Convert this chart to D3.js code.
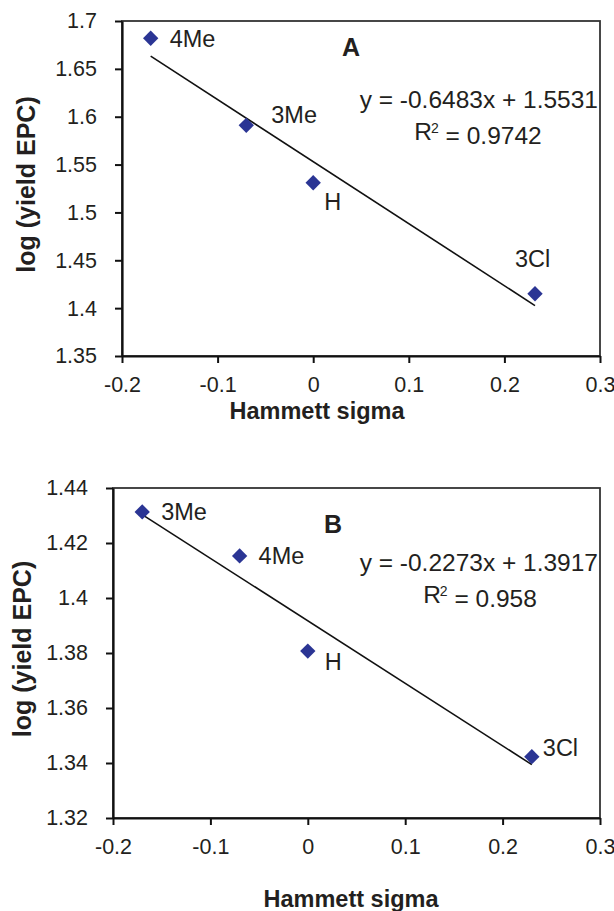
<!DOCTYPE html>
<html>
<head>
<meta charset="utf-8">
<script src="https://cdn.jsdelivr.net/npm/d3@7"></script>
<style>
  body { margin: 0; background: #fff; }
  text { font-family: "Liberation Sans", Arial, sans-serif; fill: #231f20; }
</style>
</head>
<body>
<svg id="chart" width="614" height="911"></svg>
<script>
// Panel A data
const substituentsA = ["4Me", "3Me", "H", "3Cl"];
const sigmaA = [-0.17, -0.07, 0, 0.232];
const logYieldA = [1.682, 1.591, 1.531, 1.415];
const fitA = [-0.6483, 1.5531];   // slope, intercept
const r2A = "0.9742";
const yTicksA = [1.35, 1.4, 1.45, 1.5, 1.55, 1.6, 1.65, 1.7];
const yTickLabelsA = ["1.35", "1.4", "1.45", "1.5", "1.55", "1.6", "1.65", "1.7"];

// Panel B data
const substituentsB = ["3Me", "4Me", "H", "3Cl"];
const sigmaB = [-0.17, -0.07, 0, 0.23];
const logYieldB = [1.4313, 1.4153, 1.3807, 1.3423];
const fitB = [-0.2273, 1.3917];
const r2B = "0.958";
const yTicksB = [1.32, 1.34, 1.36, 1.38, 1.4, 1.42, 1.44];
const yTickLabelsB = ["1.32", "1.34", "1.36", "1.38", "1.4", "1.42", "1.44"];

// shared x axis
const xTicks = [-0.2, -0.1, 0, 0.1, 0.2, 0.3];
const xTickLabels = ["-0.2", "-0.1", "0", "0.1", "0.2", "0.3"];

const svg = d3.select("#chart");

function drawPanel(cfg) {
  const g = svg.append("g");
  const x = d3.scaleLinear().domain([-0.2, 0.3]).range([cfg.left, 600]);
  const y = d3.scaleLinear().domain(cfg.yDomain).range([cfg.bottom, cfg.top]);

  // frame (top + right)
  g.append("rect")
    .attr("x", cfg.left).attr("y", cfg.top)
    .attr("width", 600 - cfg.left).attr("height", cfg.bottom - cfg.top)
    .attr("fill", "none").attr("stroke", "#333").attr("stroke-width", 1.8);

  const xAxis = g.append("g")
    .attr("transform", `translate(0,${cfg.bottom})`)
    .call(d3.axisBottom(x).tickValues(xTicks).tickSize(7).tickSizeOuter(0)
      .tickFormat((d, i) => xTickLabels[i]));
  const yAxis = g.append("g")
    .attr("transform", `translate(${cfg.left},0)`)
    .call(d3.axisLeft(y).tickValues(cfg.yTicks).tickSize(7).tickSizeOuter(0)
      .tickFormat((d, i) => cfg.yTickLabels[i]));

  [xAxis, yAxis].forEach(ax => {
    ax.select(".domain").attr("stroke", "#111").attr("stroke-width", 2.2);
    ax.selectAll(".tick line").attr("stroke", "#111").attr("stroke-width", 2);
    ax.selectAll(".tick text").style("font-size", "21.5px").attr("fill", "#231f20");
  });
  xAxis.selectAll(".tick text").attr("y", 28).attr("dy", "0.35em");
  yAxis.selectAll(".tick text").attr("x", -25);

  // trend line
  const xs = [d3.min(cfg.sigma), d3.max(cfg.sigma)];
  g.append("line")
    .attr("x1", x(xs[0])).attr("y1", y(cfg.fit[0] * xs[0] + cfg.fit[1]))
    .attr("x2", x(xs[1])).attr("y2", y(cfg.fit[0] * xs[1] + cfg.fit[1]))
    .attr("stroke", "#111").attr("stroke-width", 1.6);

  const pts = cfg.sigma.map((s, i) => ({s: s, v: cfg.logYield[i], name: cfg.names[i], off: cfg.labelOffsets[i]}));

  const sym = d3.symbolDiamond2 ? d3.symbol(d3.symbolDiamond2, 150)
    : () => "M0,-7.5L7.5,0L0,7.5L-7.5,0Z";
  g.selectAll(".pt")
    .data(pts)
    .join("path")
    .attr("class", "pt")
    .attr("d", sym)
    .attr("transform", d => `translate(${x(d.s)},${y(d.v)})`)
    .attr("fill", "#2b3594");

  g.selectAll(".pt-label")
    .data(pts)
    .join("text")
    .attr("class", "pt-label")
    .attr("x", d => x(d.s) + d.off[0])
    .attr("y", d => y(d.v) + d.off[1])
    .attr("dy", "0.35em")
    .style("font-size", "23.5px")
    .text(d => d.name);

  // panel letter
  g.append("text")
    .attr("x", cfg.letterPos[0]).attr("y", cfg.letterPos[1]).attr("dy", "0.35em")
    .attr("text-anchor", "middle")
    .style("font-size", "25px").style("font-weight", "bold")
    .text(cfg.letter);

  // equation
  g.append("text")
    .attr("x", 598).attr("y", cfg.eqY).attr("dy", "0.35em")
    .attr("text-anchor", "end")
    .style("font-size", "24.5px")
    .text(`y = ${cfg.fit[0]}x + ${cfg.fit[1]}`);
  const r2 = g.append("text")
    .attr("x", cfg.r2X).attr("y", cfg.eqY + 32).attr("dy", "0.35em")
    .attr("text-anchor", "middle")
    .style("font-size", "24.5px");
  r2.append("tspan").text("R");
  r2.append("tspan").attr("dy", "-0.45em").attr("dx", "-1").style("font-size", "14px").text("2");
  r2.append("tspan").attr("dy", "0.45em").text(` = ${cfg.r2}`);

  // axis titles
  g.append("text")
    .attr("transform", `translate(${cfg.yTitleX},${(cfg.top + cfg.bottom) / 2 - 4}) rotate(-90)`)
    .attr("text-anchor", "middle").attr("dy", "0.35em")
    .style("font-size", "25px").style("font-weight", "bold")
    .text("log (yield EPC)");
  g.append("text")
    .attr("x", cfg.xTitleX).attr("y", cfg.xTitleY).attr("dy", "0.35em")
    .attr("text-anchor", "middle")
    .style("font-size", "23.5px").style("font-weight", "bold")
    .text("Hammett sigma");
}

drawPanel({
  left: 122, top: 21, bottom: 356,
  yDomain: [1.35, 1.7], yTicks: yTicksA, yTickLabels: yTickLabelsA,
  sigma: sigmaA, logYield: logYieldA, names: substituentsA,
  labelOffsets: [[19, 1], [25, -11], [11, 19], [-20, -35]],
  fit: fitA, r2: r2A, letter: "A", letterPos: [351, 47],
  eqY: 99, r2X: 478, yTitleX: 26, xTitleX: 317, xTitleY: 411
});

drawPanel({
  left: 113, top: 488, bottom: 818,
  yDomain: [1.32, 1.44], yTicks: yTicksB, yTickLabels: yTickLabelsB,
  sigma: sigmaB, logYield: logYieldB, names: substituentsB,
  labelOffsets: [[19, 0], [19, 0], [17, 11], [11, -9]],
  fit: fitB, r2: r2B, letter: "B", letterPos: [333, 524],
  eqY: 562, r2X: 480, yTitleX: 22, xTitleX: 351, xTitleY: 899
});
</script>
</body>
</html>
